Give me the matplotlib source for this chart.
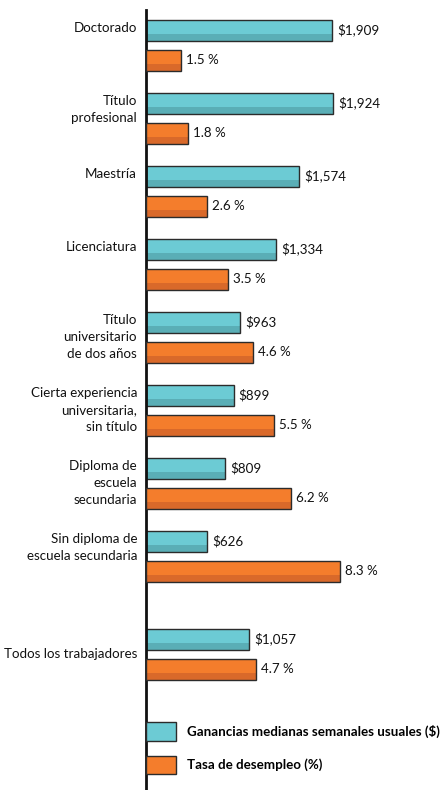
import matplotlib
matplotlib.use("Agg")
import matplotlib.pyplot as plt
from matplotlib.patches import Patch
import numpy as np

categories = ["Doctorado", "Título\nprofesional", "Maestría", "Licenciatura",
              "Título\nuniversitario\nde dos años",
              "Cierta experiencia\nuniversitaria,\nsin título",
              "Diploma de\nescuela\nsecundaria",
              "Sin diploma de\nescuela secundaria",
              "Todos los trabajadores"]
earnings = [1909, 1924, 1574, 1334, 963, 899, 809, 626, 1057]
earn_labels = ["$1,909", "$1,924", "$1,574", "$1,334", "$963", "$899", "$809", "$626", "$1,057"]
unemployment = [1.5, 1.8, 2.6, 3.5, 4.6, 5.5, 6.2, 8.3, 4.7]
unemp_labels = ["1.5 %", "1.8 %", "2.6 %", "3.5 %", "4.6 %", "5.5 %", "6.2 %", "8.3 %", "4.7 %"]
legend_labels = ["Ganancias medianas semanales usuales ($)", "Tasa de desempleo (%)"]

TEAL = "#6ccbd4"
TEAL_D = "#5aaeb6"
ORANGE = "#f47d2c"
ORANGE_D = "#d9692a"
EDGE = "#2b2b2b"

plt.rcParams['font.family'] = ['Lato', 'DejaVu Sans']
FS = 9.6

fig = plt.figure(figsize=(4.44, 7.90), dpi=100)
ax = fig.add_axes([146/444, 0, 298/444, 1])
ax.set_ylim(790, 0)
ax.set_xlim(0, 3060)
ax2 = ax.twiny()
ax2.set_xlim(0, 12.78)
ax2.set_ylim(790, 0)

n = len(categories)
idx = np.arange(n)
group = 73.0
centers_t = 30 + group * idx + np.where(idx == n - 1, 25, 0)
centers_o = centers_t + 30
bh = 21
band = bh * 0.3

ax.barh(centers_t, earnings, height=bh, color=TEAL, edgecolor='none', zorder=2)
ax.barh(centers_t + bh/2 - band/2, earnings, height=band, color=TEAL_D, edgecolor='none', zorder=2.1)
ax.barh(centers_t, earnings, height=bh, color='none', edgecolor=EDGE, linewidth=1.0, zorder=2.2)
ax2.barh(centers_o, unemployment, height=bh, color=ORANGE, edgecolor='none', zorder=2)
ax2.barh(centers_o + bh/2 - band/2, unemployment, height=band, color=ORANGE_D, edgecolor='none', zorder=2.1)
ax2.barh(centers_o, unemployment, height=bh, color='none', edgecolor=EDGE, linewidth=1.0, zorder=2.2)

for i in range(n):
    ax.annotate(earn_labels[i], xy=(earnings[i], centers_t[i]), xytext=(5, 0),
                textcoords='offset pixels', va='center', ha='left', fontsize=FS, color='#111')
    ax2.annotate(unemp_labels[i], xy=(unemployment[i], centers_o[i]), xytext=(5, 0),
                 textcoords='offset pixels', va='center', ha='left', fontsize=FS, color='#111')
    if i == n - 1:
        ax.annotate(categories[i], xy=(0, (centers_t[i] + centers_o[i]) / 2), xytext=(-9, 0),
                    textcoords='offset pixels', va='center', ha='right', fontsize=FS,
                    color='#111', annotation_clip=False)
    else:
        ax.annotate(categories[i], xy=(0, centers_t[i]), xytext=(-9, 8),
                    textcoords='offset pixels', va='top', ha='right', fontsize=FS,
                    color='#111', multialignment='right', linespacing=1.5,
                    annotation_clip=False)

for a in (ax, ax2):
    for s in a.spines.values():
        s.set_visible(False)
    a.set_xticks([])
    a.set_yticks([])
ax.spines['left'].set_visible(True)
ax.spines['left'].set_linewidth(2)
ax.spines['left'].set_color('#111')
ax.spines['left'].set_bounds(10, 790)
ax.spines['left'].set_zorder(5)

handles = [Patch(facecolor=TEAL, edgecolor=EDGE, linewidth=1.0),
           Patch(facecolor=ORANGE, edgecolor=EDGE, linewidth=1.0)]
leg = ax2.legend(handles, legend_labels, loc='upper left', bbox_to_anchor=(0, 1 - 722/790),
                 frameon=False, borderpad=0, borderaxespad=0, handlelength=2.25,
                 handleheight=1.8, labelspacing=1.1, handletextpad=0.85,
                 prop={'weight': 'bold', 'size': FS})

fig.savefig("out.png", dpi=100)
